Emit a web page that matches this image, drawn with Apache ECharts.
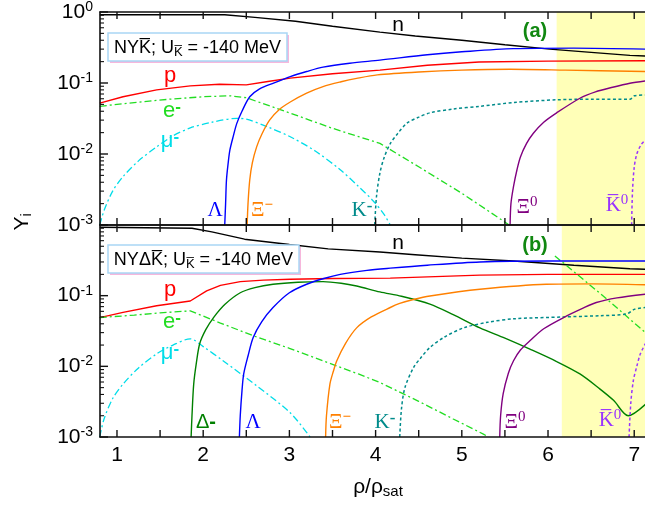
<!DOCTYPE html>
<html><head><meta charset="utf-8">
<script src="https://cdn.jsdelivr.net/npm/echarts@6/dist/echarts.min.js"></script>
<style>html,body{margin:0;padding:0;background:#fff}#c{width:645px;height:506px}</style>
</head><body><div id="c"></div>
<script>
// ---------- data (x = rho/rho_sat, y = Y_i) ----------
const xTicks = [1,1.5,2,2.5,3,3.5,4,4.5,5,5.5,6,6.5,7];
const xLabels = [1,2,3,4,5,6,7];
const yMajor = [0.001,0.01,0.1,1];
const yMinor = [0.002,0.003,0.004,0.005,0.006,0.007,0.008,0.009,0.02,0.03,0.04,0.05,0.06,0.07,0.08,0.09,0.2,0.3,0.4,0.5,0.6,0.7,0.8,0.9];

// panel (a): NY Kbar
const nA = [[0.8,0.915],[2.25,0.915],[2.6,0.84],[3.07,0.74],[3.5,0.63],[4.05,0.52],[4.46,0.46],[5.0,0.40],[5.5,0.345],[6.02,0.30],[6.5,0.27],[6.95,0.245],[7.13,0.24]];
const pA = [[0.8,0.052],[1.07,0.064],[1.46,0.080],[1.85,0.091],[2.19,0.096],[2.5,0.094],[2.75,0.105],[3.01,0.117],[3.5,0.135],[4.05,0.152],[4.6,0.178],[5.2,0.198],[6.0,0.203],[7.13,0.206]];
const eA = [[0.8,0.047],[1.2,0.053],[1.6,0.059],[2.0,0.064],[2.31,0.066],[2.5,0.062],[3.0,0.038],[3.5,0.023],[4.05,0.0141],[4.5,0.0066],[5.0,0.0028],[5.3,0.0016],[5.55,0.001]];
const muA = [[0.8,0.001],[0.85,0.0016],[0.95,0.0030],[1.07,0.0048],[1.25,0.0080],[1.46,0.0126],[1.65,0.018],[1.85,0.0233],[2.1,0.028],[2.39,0.0317],[2.5,0.031],[2.75,0.024],[3.01,0.0175],[3.3,0.011],[3.59,0.006],[3.8,0.0035],[3.97,0.0022],[4.1,0.0014],[4.17,0.001]];
const lamA = [[2.25,0.001],[2.26,0.002],[2.27,0.0043],[2.29,0.0075],[2.31,0.0114],[2.35,0.018],[2.39,0.027],[2.45,0.040],[2.54,0.064],[2.65,0.082],[2.81,0.099],[3.01,0.123],[3.2,0.145],[3.39,0.167],[3.7,0.19],[4.05,0.21],[4.6,0.25],[5.0,0.275],[5.6,0.305],[6.3,0.31],[7.13,0.30]];
const ximA = [[2.51,0.001],[2.52,0.002],[2.54,0.0043],[2.57,0.0075],[2.62,0.0126],[2.68,0.019],[2.77,0.030],[2.88,0.042],[3.01,0.054],[3.2,0.072],[3.39,0.089],[3.6,0.104],[3.78,0.116],[4.02,0.13],[4.5,0.143],[5.0,0.152],[5.56,0.156],[6.2,0.152],[7.13,0.145]];
const kmA = [[3.99,0.001],[4.01,0.0025],[4.05,0.0054],[4.1,0.009],[4.17,0.014],[4.25,0.019],[4.36,0.027],[4.5,0.033],[4.63,0.038],[4.9,0.043],[5.21,0.047],[5.6,0.053],[6.1,0.058],[6.5,0.059],[6.95,0.059],[7.0,0.066],[7.13,0.068]];
const xi0A = [[5.56,0.001],[5.57,0.002],[5.60,0.0035],[5.64,0.006],[5.68,0.0091],[5.75,0.014],[5.83,0.0196],[5.95,0.028],[6.10,0.038],[6.37,0.061],[6.55,0.075],[6.75,0.087],[6.95,0.099],[7.13,0.107]];
const k0A = [[6.97,0.001],[6.98,0.003],[7.0,0.0065],[7.03,0.010],[7.08,0.0135],[7.13,0.0158]];
const shadeA = [6.10, 7.125];

// panel (b): NY Delta Kbar
const nB = [[0.8,0.93],[1.87,0.90],[2.1,0.80],[2.48,0.63],[3.0,0.53],[3.45,0.46],[4.05,0.415],[4.46,0.38],[5.0,0.34],[5.6,0.31],[6.3,0.27],[6.95,0.24],[7.13,0.236]];
const pB = [[0.8,0.049],[1.07,0.058],[1.46,0.072],[1.85,0.084],[2.04,0.117],[2.2,0.140],[2.43,0.158],[2.7,0.166],[3.01,0.171],[3.5,0.175],[4.17,0.177],[5.21,0.195],[6.0,0.20],[7.13,0.20]];
const eB = [[0.8,0.049],[1.2,0.053],[1.5,0.057],[1.85,0.061],[2.2,0.041],[2.62,0.026],[3.0,0.018],[3.39,0.012],[3.8,0.0078],[4.05,0.0059],[4.5,0.0032],[4.9,0.0018],[5.25,0.0011],[5.31,0.001]];
const eB2 = [[6.08,0.365],[6.64,0.099],[7.13,0.030]];
const muB = [[0.8,0.001],[0.85,0.0018],[0.95,0.0035],[1.07,0.0056],[1.25,0.0095],[1.46,0.015],[1.65,0.020],[1.85,0.0245],[2.0,0.019],[2.23,0.012],[2.62,0.0053],[3.01,0.0022],[3.24,0.001]];
const delB = [[1.86,0.001],[1.87,0.002],[1.89,0.0056],[1.92,0.011],[1.96,0.021],[2.03,0.033],[2.12,0.049],[2.25,0.075],[2.43,0.11],[2.6,0.13],[2.81,0.145],[3.1,0.155],[3.39,0.158],[3.6,0.15],[3.78,0.137],[4.05,0.113],[4.3,0.098],[4.63,0.076],[4.9,0.054],[5.21,0.035],[5.5,0.025],[5.79,0.0175],[6.1,0.0117],[6.37,0.0078],[6.6,0.0048],[6.76,0.0033],[6.93,0.0020],[7.13,0.0029]];
const lamB = [[2.42,0.001],[2.43,0.002],[2.45,0.0045],[2.47,0.0078],[2.52,0.014],[2.58,0.0256],[2.68,0.043],[2.81,0.068],[3.0,0.11],[3.2,0.145],[3.4,0.175],[3.59,0.20],[3.9,0.228],[4.17,0.245],[4.6,0.27],[5.21,0.30],[6.0,0.31],[7.13,0.31]];
const ximB = [[3.42,0.001],[3.43,0.002],[3.47,0.0056],[3.51,0.0085],[3.55,0.012],[3.65,0.021],[3.78,0.035],[3.95,0.050],[4.17,0.068],[4.28,0.0776],[4.45,0.089],[4.63,0.099],[5.21,0.123],[5.98,0.145],[6.5,0.147],[7.13,0.143]];
const kmB = [[4.28,0.001],[4.3,0.0025],[4.34,0.005],[4.44,0.0096],[4.52,0.013],[4.63,0.0185],[4.8,0.026],[5.02,0.035],[5.3,0.042],[5.6,0.047],[6.18,0.050],[6.6,0.052],[6.91,0.055],[7.0,0.064],[7.13,0.068]];
const xi0B = [[5.44,0.001],[5.45,0.002],[5.48,0.0041],[5.54,0.008],[5.60,0.012],[5.68,0.017],[5.79,0.023],[5.95,0.034],[6.18,0.049],[6.4,0.066],[6.56,0.080],[6.8,0.093],[7.13,0.105]];
const k0B = [[6.94,0.001],[6.96,0.003],[6.99,0.0063],[7.03,0.010],[7.07,0.0149],[7.13,0.021]];
const shadeB = [6.16, 7.125];

// ---------- chart ----------
const SANS = 'Liberation Sans, Arial, sans-serif';
const SERIF = 'Liberation Serif, Times New Roman, serif';
const C = {n:'#000000', p:'#ff0000', e:'#22dd22', mu:'#00dde8', lam:'#0000ff', xim:'#ff8000', km:'#008b8b', xi0:'#800080', k0:'#9933ff', del:'#008000'};
const XMIN = 0.803, XMAX = 7.125;
const AX = '#111';

function line(data, g, color, type, width, smooth, z) {
  return {type:'line', data:data, xAxisIndex:g*2, yAxisIndex:g*2, showSymbol:false, symbol:'none',
    smooth:smooth||false, lineStyle:{color:color, width:width||1.4, type:type||'solid'}, z:z||3, silent:true, animation:false};
}
function withShade(s, range) {
  s.markArea = {silent:true, itemStyle:{color:'#ffffb8'}, data:[[{xAxis:range[0]},{xAxis:range[1]}]]};
  return s;
}
// tick marks drawn through the axes' own scales
function xTickSeries(g, len) {
  return {type:'custom', coordinateSystem:'cartesian2d', xAxisIndex:g*2, yAxisIndex:g*2, silent:true, z:10,
    data:xTicks.map(function(v){ return [v, 0.01]; }), encode:{x:0, y:1},
    renderItem:function(params, api){
      const v = api.value(0);
      const t = api.coord([v, 1]), b = api.coord([v, 0.001]);
      return {type:'group', children:[
        {type:'line', shape:{x1:t[0], y1:t[1], x2:t[0], y2:t[1]+len}, style:{stroke:AX, lineWidth:1.4}},
        {type:'line', shape:{x1:b[0], y1:b[1], x2:b[0], y2:b[1]-len}, style:{stroke:AX, lineWidth:1.4}}]};
    }};
}
function yTickSeries(g, vals, len, w) {
  return {type:'custom', coordinateSystem:'cartesian2d', xAxisIndex:g*2, yAxisIndex:g*2, silent:true, z:10,
    data:vals.map(function(v){ return [XMIN, v]; }), encode:{x:0, y:1},
    renderItem:function(params, api){
      const p = api.coord([XMIN, api.value(1)]);
      return {type:'line', shape:{x1:p[0], y1:p[1], x2:p[0]+len, y2:p[1]}, style:{stroke:AX, lineWidth:w}};
    }};
}
function xAx(g, pos, labels) {
  return {type:'value', gridIndex:g, position:pos, min:XMIN, max:XMAX, z:8,
    axisLine:{show:true, onZero:false, lineStyle:{color:AX, width:1.6}},
    axisTick:{show:false},
    axisLabel:{show:labels, margin:8, color:'#000', fontFamily:SANS, fontSize:21, showMinLabel:false, showMaxLabel:false,
      formatter:function(v){ const r = Math.round(v); return (Math.abs(v - r) < 1e-6 && xLabels.indexOf(r) >= 0) ? String(r) : ''; }},
    splitLine:{show:false}};
}
function yAx(g, major, hideTop) {
  if (major) {
    return {type:'log', logBase:10, gridIndex:g, min:0.001, max:1, position:'left', z:8,
      axisLine:{show:true, lineStyle:{color:AX, width:1.6}},
      axisTick:{show:false},
      axisLabel:{show:true, margin:7, color:'#000', fontFamily:SANS,
        formatter:function(v){ const ex = Math.round(Math.log10(v)); if (hideTop && ex===0) return ''; return '{b|10}{s|'+ex+'}'; },
        rich:{b:{fontSize:21, lineHeight:24, fontFamily:SANS, color:'#000'}, s:{fontSize:14, lineHeight:14, verticalAlign:'top', fontFamily:SANS, color:'#000'}}},
      splitLine:{show:false}};
  }
  return {type:'log', logBase:10, gridIndex:g, min:0.001, max:1, position:'left', show:false};
}

function txt(x, y, text, color, font, size, rich, bold) {
  return {type:'text', x:x, y:y, z:20, style:{text:text, fill:color, fontFamily:font, fontSize:size, fontWeight:bold?'bold':'normal',
    align:'center', verticalAlign:'middle', rich:rich||{}}};
}
function supRich(color, font, base, s, boldSup) {
  return {b:{fontSize:base, lineHeight:base+3, fontFamily:font, fill:color},
          s:{fontSize:s, lineHeight:s, verticalAlign:'top', fontFamily:font, fontWeight:boldSup?'bold':'normal', fill:color}};
}
function box(x, y, w, h, label, rich) {
  return {type:'group', z:20, children:[
    {type:'rect', shape:{x:x+2, y:y+2, width:w, height:h}, style:{fill:'#f6b7dc'}, z:20},
    {type:'rect', shape:{x:x, y:y, width:w, height:h}, style:{fill:'#ffffff', stroke:'#a9d6f5', lineWidth:1.5}, z:21},
    {type:'text', x:x+w/2, y:y+h/2+1, z:22, style:{text:label, align:'center', verticalAlign:'middle', rich:rich}}
  ]};
}
const boxRich = {b:{fontSize:18, lineHeight:22, fontFamily:SANS, fill:'#000'},
                 u:{fontSize:13, lineHeight:13, verticalAlign:'bottom', fontFamily:SANS, fill:'#000'}};
const KB = 'K\u0305';

function labels(b) {
  const out = [];
  out.push(txt(398, b?243:25, 'n', '#000', SANS, 21));
  out.push(txt(535, b?245:31, b?'(b)':'(a)', '#118811', SANS, 20, null, true));
  out.push(txt(170, b?290:76, 'p', C.p, SANS, 22));
  out.push(txt(172, b?322:111, '{b|e}{s|-}', C.e, SANS, 22, supRich(C.e, SANS, 22, 17, true)));
  out.push(txt(170, b?353:141, '{b|\u03bc}{s|-}', C.mu, SANS, 22, supRich(C.mu, SANS, 22, 17, true)));
  return out;
}

const graphics = [].concat(
  labels(false), labels(true),
  [
    txt(215, 210, '\u039b', C.lam, SERIF, 21),
    txt(262, 210, '{b|\u039e}{s|\u2212}', C.xim, SERIF, 21, supRich(C.xim, SERIF, 21, 15, true)),
    txt(362, 210, '{b|K}{s|-}', C.km, SERIF, 21, supRich(C.km, SERIF, 21, 17, true)),
    txt(527, 207, '{b|\u039e}{s|0}', C.xi0, SERIF, 21, supRich(C.xi0, SERIF, 21, 15)),
    txt(617, 205, '{b|'+KB+'}{s|0}', C.k0, SERIF, 21, supRich(C.k0, SERIF, 21, 15)),
    txt(206, 422, '{b|\u0394}{m|-}', C.del, SANS, 20, {b:{fontSize:20, fontFamily:SANS, fill:C.del}, m:{fontSize:20, fontWeight:'bold', fontFamily:SANS, fill:C.del}}),
    txt(253, 422, '\u039b', C.lam, SERIF, 21),
    txt(340, 422, '{b|\u039e}{s|\u2212}', C.xim, SERIF, 21, supRich(C.xim, SERIF, 21, 15, true)),
    txt(385, 422, '{b|K}{s|-}', C.km, SERIF, 21, supRich(C.km, SERIF, 21, 17, true)),
    txt(515, 422, '{b|\u039e}{s|0}', C.xi0, SERIF, 21, supRich(C.xi0, SERIF, 21, 15)),
    txt(610, 420, '{b|'+KB+'}{s|0}', C.k0, SERIF, 21, supRich(C.k0, SERIF, 21, 15)),
    box(108, 33, 179, 28, '{b|NY'+KB+'; U}{u|'+KB+'}{b| = -140 MeV}', boxRich),
    box(108, 245, 191, 28, '{b|NY\u0394'+KB+'; U}{u|'+KB+'}{b| = -140 MeV}', boxRich),
    {type:'text', x:378, y:487, z:20, style:{text:'{b|\u03c1/\u03c1}{u|sat}', align:'center', verticalAlign:'middle',
      rich:{b:{fontSize:21, lineHeight:24, fontFamily:SANS, fill:'#000'}, u:{fontSize:15, lineHeight:15, verticalAlign:'bottom', fontFamily:SANS, fill:'#000'}}}},
    {type:'text', x:22, y:222, rotation:Math.PI/2, z:20, style:{text:'{b|Y}{u|i}', align:'center', verticalAlign:'middle',
      rich:{b:{fontSize:21, lineHeight:24, fontFamily:SANS, fill:'#000'}, u:{fontSize:14, lineHeight:14, verticalAlign:'bottom', fontFamily:SANS, fill:'#000'}}}}
  ]
);

const chart = echarts.init(document.getElementById('c'), null, {renderer:'canvas'});
chart.setOption({
  animation:false,
  backgroundColor:'#ffffff',
  grid:[{left:100, top:12, right:0, height:213}, {left:100, top:225, right:0, height:212}],
  xAxis:[xAx(0,'bottom',false), xAx(0,'top',false), xAx(1,'bottom',true), xAx(1,'top',false)],
  yAxis:[yAx(0,true,false), yAx(0,false), yAx(1,true,true), yAx(1,false)],
  series:[
    withShade(line(nA,0,C.n,null,1.4,false,2), shadeA), line(pA,0,C.p), line(eA,0,C.e,[7,3,2,3],1.3), line(muA,0,C.mu,[7,3,2,3],1.3,0.3),
    line(lamA,0,C.lam,null,1.4,0.3), line(ximA,0,C.xim,null,1.4,0.3), line(kmA,0,C.km,[3,2.5],1.5,0.3), line(xi0A,0,C.xi0,null,1.4,0.3), line(k0A,0,C.k0,[3,2.5],1.5,0.3),
    withShade(line(nB,1,C.n,null,1.4,false,2), shadeB), line(pB,1,C.p), line(eB,1,C.e,[7,3,2,3],1.3), line(eB2,1,C.e,[7,3,2,3],1.3), line(muB,1,C.mu,[7,3,2,3],1.3,0.3),
    line(delB,1,C.del,null,1.4,0.3), line(lamB,1,C.lam,null,1.4,0.3), line(ximB,1,C.xim,null,1.4,0.3), line(kmB,1,C.km,[3,2.5],1.5,0.3), line(xi0B,1,C.xi0,null,1.4,0.3), line(k0B,1,C.k0,[3,2.5],1.5,0.3),
    xTickSeries(0,7), xTickSeries(1,7),
    yTickSeries(0,yMajor,8,1.4), yTickSeries(0,yMinor,4,1.1),
    yTickSeries(1,yMajor,8,1.4), yTickSeries(1,yMinor,4,1.1)
  ],
  graphic:graphics
});
</script></body></html>
